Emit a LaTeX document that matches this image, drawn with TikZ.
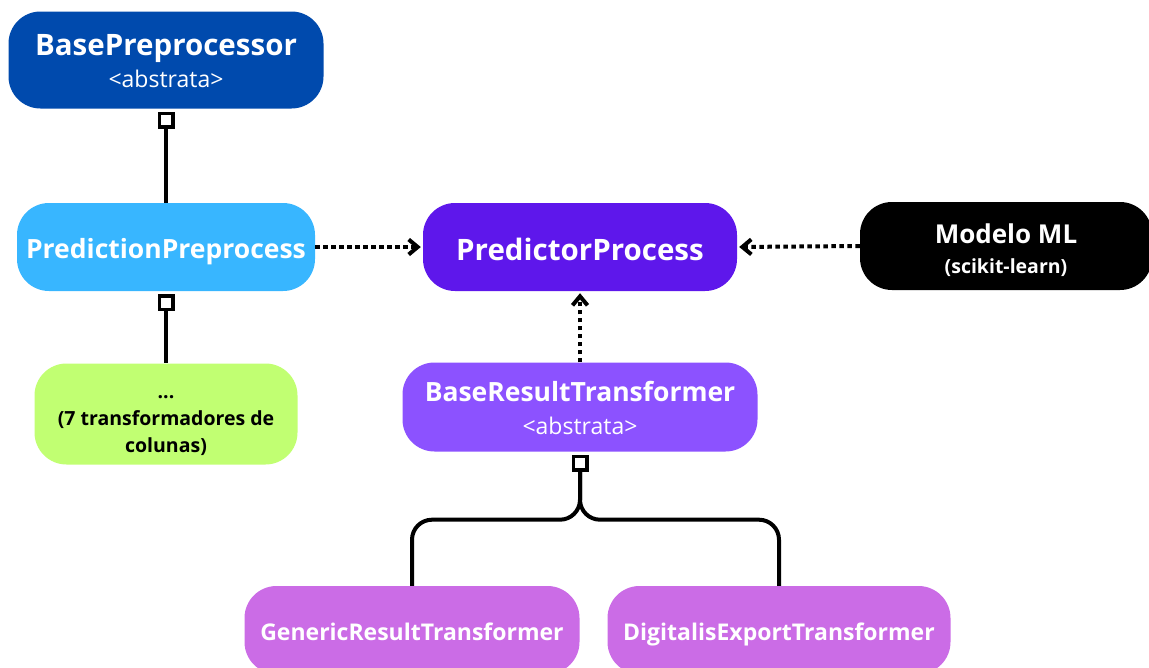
\documentclass[tikz,border=0pt]{standalone}
\usepackage{fontspec}
\setmainfont{Open Sans}
\usetikzlibrary{arrows.meta,positioning}

\definecolor{basecol}{HTML}{004AAD}
\definecolor{prepcol}{HTML}{38B6FF}
\definecolor{colcol}{HTML}{C1FF72}
\definecolor{proccol}{HTML}{5E17EB}
\definecolor{brtcol}{HTML}{8C52FF}
\definecolor{leafcol}{HTML}{CB6CE6}

\begin{document}
\begin{tikzpicture}[
    x=1pt,
    y=-1pt,
    line join=round,
    box/.style={
        rounded corners=32pt,
        inner sep=0pt,
        align=center,
        text=white,
        minimum height=88pt
    },
    comp/.style={
        line width=4pt,
        {Square[open,length=17pt,width=17pt,line width=3.5pt]}-,
        shorten <=3pt
    },
    dep/.style={
        line width=4pt,
        dash pattern=on 4.5pt off 3.5pt,
        -{Straight Barb[length=9pt,width=15pt]},
        shorten >=2pt
    }
]

\useasboundingbox (0,0) rectangle (1149,667);

% =================================================
% Classes
% =================================================

\node[box, fill=basecol, minimum width=315pt, minimum height=97pt,
      text height=54pt, text depth=0pt,
      font=\fontsize{29.5}{32}\selectfont\bfseries] (base) at (166,60)
    {BasePreprocessor\\[0pt]{\fontsize{23}{27}\selectfont\mdseries <abstrata>}};

\node[box, fill=prepcol, minimum width=298pt,
      text height=23pt, text depth=0pt,
      font=\fontsize{26.5}{31}\selectfont\bfseries] (pprep) at (166,247)
    {PredictionPreprocess};

\node[box, fill=colcol, text=black, minimum width=263pt, minimum height=101pt,
      text height=76pt, text depth=0pt,
      font=\fontsize{19.5}{27}\selectfont\bfseries] (cols) at (166,414)
    {...\\(7 transformadores de\\colunas)};

\node[box, fill=proccol, minimum width=314pt,
      text height=27pt, text depth=0pt,
      font=\fontsize{29.5}{31}\selectfont\bfseries] (pproc) at (580,247)
    {PredictorProcess};

\node[box, fill=black, minimum width=292pt,
      text height=54pt, text depth=0pt,
      font=\fontsize{26}{29}\selectfont\bfseries] (model) at (1006,246)
    {Modelo ML\\[1pt]{\fontsize{19.5}{22}\selectfont (scikit-learn)}};

\node[box, fill=brtcol, minimum width=355pt, minimum height=89pt,
      text height=54pt, text depth=0pt,
      font=\fontsize{26.5}{32}\selectfont\bfseries] (brt) at (580,407)
    {BaseResultTransformer\\[1pt]{\fontsize{23}{27}\selectfont\mdseries <abstrata>}};

\node[box, fill=leafcol, minimum width=335pt,
      text height=20pt, text depth=0pt,
      font=\fontsize{23}{27}\selectfont\bfseries] (grt) at (412,630)
    {GenericResultTransformer};

\node[box, fill=leafcol, minimum width=343pt,
      text height=20pt, text depth=0pt,
      font=\fontsize{23}{27}\selectfont\bfseries] (dexp) at (779,630)
    {DigitalisExportTransformer};

% =================================================
% Ligações
% =================================================

\draw[comp] (base.south) -- (pprep.north);
\draw[comp] (pprep.south) -- (cols.north);

\draw[dep] (pprep.east) -- (pproc.west);
\draw[dep] (model.west) -- (pproc.east);
\draw[dep] (brt.north) -- (pproc.south);

\coordinate (fork) at ([yshift=-68pt]brt.south);
\draw[comp, rounded corners=20pt] (brt.south) -- (fork) -| (grt.north);
\draw[comp, rounded corners=20pt] (brt.south) -- (fork) -| (dexp.north);

\end{tikzpicture}
\end{document}
